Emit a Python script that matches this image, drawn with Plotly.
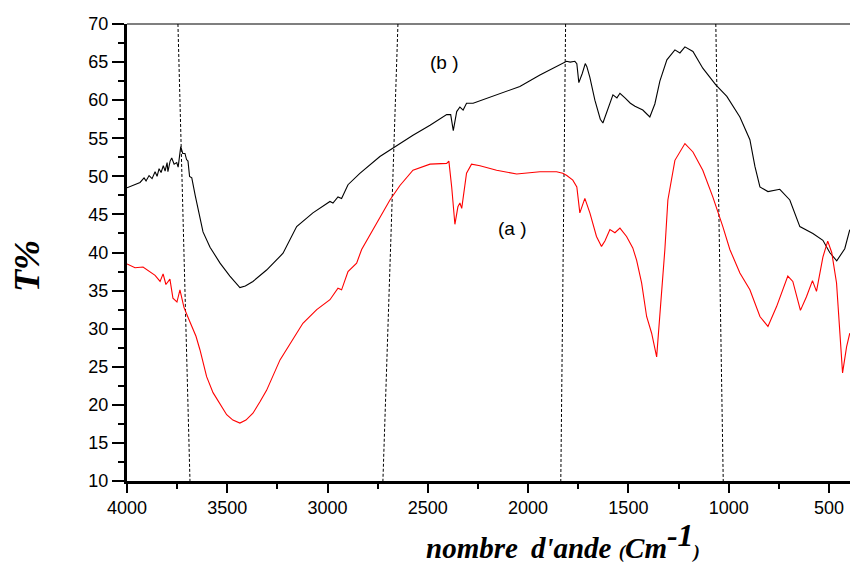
import plotly.graph_objects as go

# ---- data ----
wn_b = [4000, 3960, 3935, 3915, 3905, 3890, 3875, 3860, 3850, 3840, 3830, 3819, 3810, 3800, 3796,
        3785, 3777, 3765, 3752, 3745, 3732, 3722, 3711, 3703, 3696, 3688, 3677, 3660, 3646, 3621,
        3586, 3536, 3487, 3437, 3410, 3372, 3304, 3222, 3154, 3073, 2988, 2973, 2948, 2930, 2898,
        2839, 2739, 2664, 2574, 2489, 2406, 2386, 2373, 2356, 2340, 2324, 2307, 2274, 2157, 2041,
        1941, 1858, 1808, 1790, 1767, 1757, 1747, 1730, 1715, 1707, 1692, 1667, 1640, 1627, 1607,
        1577, 1557, 1542, 1517, 1490, 1467, 1428, 1393, 1368, 1343, 1308, 1268, 1243, 1218, 1178,
        1129, 1064, 1009, 944, 894, 869, 844, 804, 745, 695, 645, 580, 530, 496, 461, 421, 396]
T_b = [48.5, 48.9, 49.2, 49.8, 49.4, 50.1, 49.7, 50.6, 50.0, 51.0, 50.5, 51.4, 50.7, 51.8, 50.6,
       52.0, 52.4, 51.6, 51.8, 51.2, 53.9, 53.0, 53.0, 52.2, 52.0, 50.0, 49.8, 47.5, 45.6, 42.7,
       40.7, 38.6, 36.9, 35.4, 35.6, 36.2, 37.7, 39.9, 43.4, 45.2, 46.7, 46.5, 47.3, 47.1, 48.9,
       50.4, 52.6, 53.9, 55.4, 56.7, 58.1, 58.1, 56.0, 58.5, 59.1, 58.7, 59.6, 59.6, 60.7, 61.8,
       63.3, 64.4, 65.1, 65.0, 65.1, 64.8, 62.3, 63.5, 64.8, 64.4, 63.0, 60.0, 57.5, 57.0, 58.5,
       60.7, 60.3, 60.9, 60.3, 59.6, 59.2, 58.7, 57.8, 59.5, 62.5, 65.3, 66.6, 66.2, 67.0, 66.4,
       64.2, 62.0, 60.5, 57.8, 54.8, 51.3, 48.6, 48.0, 48.3, 46.9, 43.4, 42.5, 41.6, 40.0, 38.9, 40.5, 43.0]

wn_a = [4000, 3960, 3920, 3885, 3860, 3835, 3820, 3806, 3786, 3771, 3751, 3736, 3716, 3696, 3676,
        3656, 3636, 3603, 3571, 3536, 3503, 3472, 3437, 3407, 3372, 3337, 3304, 3237, 3187, 3123,
        3054, 2988, 2948, 2930, 2898, 2855, 2830, 2764, 2689, 2639, 2574, 2489, 2406, 2395, 2381,
        2365, 2350, 2340, 2331, 2307, 2282, 2240, 2157, 2057, 1941, 1858, 1827, 1807, 1777, 1757,
        1742, 1717, 1692, 1659, 1634, 1617, 1592, 1567, 1542, 1509, 1478, 1459, 1434, 1409, 1384,
        1359, 1343, 1328, 1318, 1303, 1268, 1218, 1178, 1129, 1079, 1029, 994, 944, 894, 844,
        804, 761, 705, 680, 642, 612, 582, 562, 530, 506, 486, 462, 432, 412, 396]
T_a = [38.5, 38.0, 38.1, 37.4, 37.0, 36.2, 37.2, 35.8, 36.5, 34.0, 33.5, 35.1, 32.8, 31.5, 30.2,
       29.0, 27.2, 23.7, 21.6, 20.2, 18.7, 18.0, 17.6, 18.0, 18.9, 20.4, 21.9, 25.9, 28.0, 30.7,
       32.5, 33.8, 35.3, 35.1, 37.5, 38.6, 40.4, 43.5, 46.9, 48.8, 50.8, 51.6, 51.7, 52.0, 48.6,
       43.7, 46.0, 46.5, 45.8, 50.4, 51.6, 51.4, 50.8, 50.3, 50.6, 50.6, 50.4, 50.1, 49.5, 48.6,
       45.2, 47.1, 45.2, 42.1, 40.8, 41.5, 43.0, 42.6, 43.2, 42.1, 40.6, 39.0, 36.0, 31.6, 29.4,
       26.3, 31.6, 37.7, 40.4, 46.9, 52.1, 54.3, 53.2, 50.8, 47.3, 43.4, 40.4, 37.3, 35.1, 31.6,
       30.3, 32.9, 36.9, 36.2, 32.4, 34.2, 36.3, 34.9, 39.4, 41.5, 40.0, 36.0, 24.2, 27.6, 29.4]

# dashed guide lines: wavenumber at top (T=70) and bottom (T=10)
dash_top = [3746, 2649, 1813, 1064]
dash_bottom = [3686, 2724, 1837, 1027]

x_ticks = [4000, 3500, 3000, 2500, 2000, 1500, 1000, 500]
y_ticks = [10, 15, 20, 25, 30, 35, 40, 45, 50, 55, 60, 65, 70]

fig = go.Figure()

for xt, xb in zip(dash_top, dash_bottom):
    fig.add_trace(go.Scatter(x=[xt, xb], y=[70, 10], mode="lines",
                             line=dict(color="black", width=1, dash="3px,2px"),
                             hoverinfo="skip", showlegend=False))

fig.add_trace(go.Scatter(x=wn_b, y=T_b, mode="lines", name="(b)",
                         line=dict(color="black", width=1.1), showlegend=False))
fig.add_trace(go.Scatter(x=wn_a, y=T_a, mode="lines", name="(a)",
                         line=dict(color="#ff0000", width=1.1), showlegend=False))

fig.add_annotation(x=2415, y=65.0, text="(b )", showarrow=False,
                   font=dict(family="Liberation Sans, Arial", size=19, color="black"))
fig.add_annotation(x=2076, y=43.1, text="(a )", showarrow=False,
                   font=dict(family="Liberation Sans, Arial", size=19, color="black"))

# axis titles
fig.add_annotation(xref="paper", yref="paper", x=0.597, y=-0.131,
                   xanchor="center", yanchor="middle", showarrow=False,
                   text="<b><i>nombre\u2009 d'ande <span style='font-size:19px'>(</span>"
                        "Cm<sup><span style='font-size:32px'>-1</span></sup>"
                        "<span style='font-size:19px'>)</span></i></b>",
                   font=dict(family="Liberation Serif, Times New Roman", size=29, color="black"))
fig.add_annotation(xref="paper", yref="paper", x=-0.137, y=0.47,
                   xanchor="center", yanchor="middle", showarrow=False, textangle=-90,
                   text="<b><i>T%</i></b>",
                   font=dict(family="Liberation Serif, Times New Roman", size=36, color="black"))

# thin top frame line
fig.add_shape(type="line", xref="paper", yref="paper", x0=0, x1=1, y0=1, y1=1,
              line=dict(color="black", width=1.2))

fig.update_xaxes(range=[4000, 355], tickvals=x_ticks, ticktext=[str(v) for v in x_ticks],
                 ticks="outside", ticklen=9, tickwidth=2, tickcolor="black",
                 minor=dict(dtick=250, tick0=0, ticks="outside", ticklen=5, tickwidth=2, tickcolor="black"),
                 showline=True, linewidth=2.5, linecolor="black",
                 showgrid=False, zeroline=False,
                 tickfont=dict(family="Liberation Sans, Arial", size=18, color="black"))
fig.update_yaxes(range=[10, 70], tickvals=y_ticks, ticktext=[str(v) for v in y_ticks],
                 ticks="outside", ticklen=12, tickwidth=2, tickcolor="black",
                 minor=dict(dtick=2.5, tick0=0, ticks="outside", ticklen=6, tickwidth=2, tickcolor="black"),
                 showline=True, linewidth=3, linecolor="black",
                 showgrid=False, zeroline=False,
                 tickfont=dict(family="Liberation Sans, Arial", size=18, color="black"))

# page body has an 8px default margin: figure sized/offset to compensate
fig.update_layout(width=850, height=566, margin=dict(l=119, r=0, t=16, b=93),
                  plot_bgcolor="white", paper_bgcolor="white", showlegend=False)

fig.write_html("out.html")
